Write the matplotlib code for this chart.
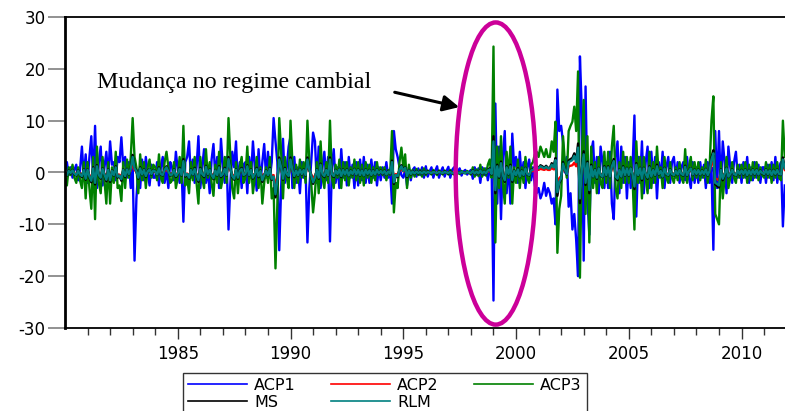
import numpy as np
import matplotlib.pyplot as plt
from matplotlib.patches import Ellipse

plt.rcParams['axes.unicode_minus'] = False

# monthly series, Jan 1980 - Dec 2011, one row per year
acp1 = [
    0.5, 2.0, -0.5, 1.0, -1.0, 0.5, 1.5, -1.5, 0.5, 5.0, -1.0, 3.5,
    -2.0, 3.0, 7.0, -1.5, 9.0, -3.0, 2.0, 5.0, -2.5, 1.0, 4.0, -1.0,
    6.0, 1.5, 2.0, -1.5, 3.0, 2.0, 6.8, 1.0, 3.0, -1.0, 2.0, -3.0,
    1.0, -17.0, -5.0, 0.5, -3.0, 2.5, -1.5, 3.0, 0.0, -2.5, 1.5, -1.0,
    -1.0, 2.0, -2.5, 1.0, 3.0, -2.0, 0.5, -3.0, 2.0, 1.0, -1.5, 4.0,
    0.5, -2.0, 1.0, -9.5, 2.0, 3.0, 6.0, -1.0, 2.5, -2.0, 1.0, 7.0,
    -3.0, 1.0, 4.5, -2.0, 0.5, -4.0, 2.5, 5.5, -1.0, 3.0, -3.0, 6.5,
    1.0, -2.0, 3.0, -11.0, -2.0, 4.0, 1.0, 6.0, -2.5, 2.0, -3.0, 1.5,
    2.0, -4.0, 3.0, -1.0, 6.0, 1.0, -3.5, 4.5, -2.0, 2.0, 5.5, -1.0,
    4.0, -1.0, 2.0, 10.5, 6.0, 2.0, -15.0, -3.0, 6.5, -2.0, 1.0, 5.0,
    7.0, -3.0, 3.0, -2.0, 1.0, -4.0, 2.0, -1.0, 1.0, -13.5, -3.0, 2.0,
    7.7, 6.0, -2.0, 5.0, -3.0, 1.0, 4.0, -1.5, 3.0, -13.3, 1.0, 4.5,
    -2.0, 1.0, -3.0, 4.5, -1.0, 2.0, -2.5, 3.0, -1.0, 1.5, -3.0, 2.0,
    -2.5, 2.5, -1.5, 3.0, -2.0, 1.5, -2.0, 2.5, -1.0, 2.0, -2.5, 1.0,
    -1.5, 1.0, -1.0, 2.0, -1.0, 0.5, -6.0, 8.0, 4.5, 3.0, 1.0, -0.5,
    -1.0, 0.5, -2.5, 1.0, -1.5, 0.5, 1.0, -0.8, 0.8, -0.5, 1.0, -1.0,
    1.2, -0.8, 0.2, 1.0, -1.0, 0.3, 1.2, -1.0, 0.2, 1.0, -0.8, 0.3,
    1.1, -1.0, 0.5, 1.0, -0.9, 0.2, 0.8, -0.6, 0.2, 0.5, -0.4, 0.1,
    0.5, -1.2, 1.0, -0.5, 0.8, -2.0, 1.0, -0.5, 0.8, -1.5, 0.5, 1.0,
    -24.7, 13.3, -6.0, 5.0, -9.0, 3.0, 8.0, -4.0, 2.0, -6.0, 7.5, 1.0,
    3.0, -2.0, 4.0, -1.0, 2.0, -3.0, 1.0, 2.5, -1.5, 1.0, -2.5, -4.0,
    -3.0, -5.0, -4.0, -2.0, -4.5, -3.0, -4.0, -6.0, -5.0, -10.0, 16.0, 8.0,
    9.0, 5.8, 0.0, 3.0, -6.6, -4.0, -11.0, -8.0, -13.0, -20.0, 22.4, 11.8,
    -17.0, 16.6, -5.0, -12.0, 4.0, 6.0, -2.0, 3.0, -4.0, 5.0, 2.0, -3.0,
    2.0, -3.0, 4.0, -6.0, -9.0, 3.0, 6.0, -4.0, 5.0, -2.0, 3.0, -5.0,
    2.0, -3.0, 1.0, 11.0, -8.5, 3.0, -2.0, 6.0, -4.0, 2.0, 5.0, -3.0,
    4.0, -2.0, 3.0, -5.0, 2.0, -1.0, 4.0, -3.0, 1.0, 3.0, -2.0, 2.0,
    3.0, -1.0, 2.0, -2.0, 1.0, 2.0, -1.5, 3.0, -1.0, -3.0, 2.0, -2.0,
    1.0, -2.0, 2.0, -1.0, 1.5, -3.0, 2.0, -2.0, 1.0, -14.9, 8.0, -3.0,
    8.0, -3.0, 6.0, 2.0, -4.0, 5.0, 1.0, -2.0, 2.0, 4.0, -1.0, 1.5,
    -2.0, 2.0, -1.0, 3.0, -2.0, 1.0, -1.5, 2.0, -1.0, 1.5, -2.0, 1.0,
    1.0, -2.0, 1.5, -1.0, 2.0, -1.5, 3.0, -2.0, 1.0, 2.0, -10.4, -2.5,
]

acp2 = [
    -0.1, -0.3, 0.2, -0.1, 0.2, -0.1, -0.3, 0.2, -0.2, -0.4, 0.3, -0.7,
    0.3, -0.5, -1.0, 0.5, -1.2, 0.7, -0.3, -0.6, 0.4, -0.2, -0.8, 0.3,
    -0.9, 0.2, -0.3, 0.6, -0.5, -0.4, -0.8, 0.3, -0.4, 0.4, -0.2, 0.4,
    1.8, 0.5, 0.1, -0.6, 0.5, -0.2, 0.3, -0.4, 0.1, 0.4, -0.2, 0.2,
    0.1, -0.2, 0.5, -0.2, -0.3, 0.3, 0.6, 0.1, -0.3, -0.2, 0.3, -0.4,
    -0.1, 0.4, -0.3, 1.3, -0.4, -0.2, -0.6, 0.3, -0.2, 0.4, -0.3, -0.9,
    0.4, -0.2, -0.4, 0.7, -0.2, 0.3, -0.3, -0.7, 0.2, -0.3, 0.6, -0.4,
    -0.2, 0.4, -0.3, 1.6, 0.4, -0.4, -0.7, 0.3, -0.6, 0.2, 0.4, -0.3,
    -0.2, 0.7, -0.3, 0.3, -0.6, -0.2, 0.4, -0.4, 0.2, -0.9, -0.3, 0.2,
    -0.3, 0.4, -0.7, -0.5, -2.5, -0.9, 1.5, 0.6, -0.7, 0.4, -0.2, -0.4,
    1.5, 0.3, -0.4, 0.2, -0.3, 0.4, -0.2, 0.3, -0.3, 1.5, 0.3, -0.3,
    -1.1, -0.6, 0.3, -0.6, 0.9, -0.2, -0.4, 0.3, -0.3, 1.5, -0.2, -0.4,
    0.2, -0.2, 0.4, -0.4, 0.3, -0.2, 0.3, -0.4, 0.2, -0.2, 0.4, -0.2,
    0.3, -0.3, 0.2, -0.4, 0.3, -0.2, 0.2, -0.3, 0.2, -0.2, 0.3, -0.1,
    0.2, -0.1, 0.2, -0.2, 0.1, -0.1, 1.2, -1.1, -0.3, -0.4, 0.3, 0.7,
    0.2, 0.5, -0.4, 0.2, -0.2, 0.1, -0.1, 0.1, -0.1, 0.1, -0.1, 0.1,
    -0.1, 0.1, 0.0, -0.1, 0.1, 0.0, -0.1, 0.1, 0.0, -0.1, 0.1, 0.0,
    -0.1, 0.1, 0.0, -0.1, 0.1, 0.0, 0.0, 0.0, 0.0, 0.0, 0.0, 0.0,
    -0.1, 0.2, -0.1, 0.1, -0.1, 0.2, -0.1, 0.1, -0.1, 0.2, 0.4, -0.2,
    3.6, -2.0, 0.7, -0.5, 1.1, -0.3, -0.9, 0.6, -0.2, 0.7, -0.9, 0.2,
    -0.3, 0.4, -0.5, 0.2, -0.3, 0.5, -0.2, -0.3, 0.2, 0.3, 0.5, 0.6,
    0.5, 0.7, 0.6, 0.5, 0.7, 0.5, 0.5, 0.9, 0.6, 1.4, -2.3, -1.1,
    -0.7, 1.0, 0.3, -0.2, 1.2, 1.3, 1.4, 1.9, 1.2, 2.9, -3.0, 0.4,
    2.1, -1.2, 1.1, -2.0, 0.7, -0.5, 0.3, -0.6, 0.5, -0.3, -0.5, 0.6,
    -0.3, 0.6, -0.5, 0.7, 1.3, -0.5, -0.7, 0.3, -0.5, 0.6, -0.3, 0.5,
    -0.3, 0.5, -0.2, -1.6, 0.9, -0.3, 0.5, -0.7, 0.5, -0.2, -0.6, 0.6,
    -0.5, 0.3, -0.3, 0.7, -0.2, 0.2, -0.5, 0.5, -0.2, -0.3, 0.3, -0.2,
    -0.3, 0.2, -0.2, 0.3, -0.2, -0.3, 0.7, -0.3, 0.2, 0.5, -0.2, 0.3,
    -0.2, 0.3, -0.2, 0.2, -0.2, 0.4, -0.3, 0.2, 1.5, 2.2, -1.2, -1.3,
    -1.5, 0.3, -0.7, -0.2, 0.5, -0.5, -0.2, 0.3, -0.2, -0.3, 0.2, -0.2,
    0.2, -0.2, 0.3, -0.3, 0.2, -0.2, 0.3, -0.2, 0.3, -0.2, 0.2, -0.1,
    -0.2, 0.3, -0.2, 0.2, -0.3, 0.2, -0.2, 0.3, -0.2, -0.2, 1.5, 0.5,
]

acp3 = [
    -1.0, -2.5, 1.0, -0.5, 1.5, -1.0, -2.0, 1.0, -1.5, -3.0, 2.0, -5.0,
    2.0, -3.0, -7.0, 3.0, -9.0, 5.0, -2.0, -4.0, 3.0, -1.5, -6.0, 2.0,
    -6.0, 1.0, -2.0, 4.0, -3.0, -2.5, -5.5, 2.0, -3.0, 2.5, -1.0, 3.0,
    10.5, 3.0, 1.0, -4.0, 3.5, -1.5, 2.0, -3.0, 1.0, 2.5, -1.0, 1.5,
    1.0, -1.5, 3.5, -1.0, -2.0, 2.0, 4.0, 1.0, -2.0, -1.5, 2.0, -3.0,
    -1.0, 3.0, -2.0, 9.0, -2.5, -1.0, -4.0, 2.0, -1.5, 3.0, -2.0, -6.0,
    3.0, -1.0, -3.0, 4.5, -1.0, 2.0, -2.0, -4.5, 1.5, -2.0, 4.0, -3.0,
    -1.0, 3.0, -2.0, 10.5, 3.0, -3.0, -5.0, 2.0, -4.0, 1.0, 3.0, -2.0,
    -1.0, 5.0, -2.0, 2.0, -4.0, -1.0, 3.0, -3.0, 1.0, -6.0, -2.0, 1.0,
    -2.0, 3.0, -5.0, -3.0, -18.5, -6.0, 10.5, 4.0, -5.0, 3.0, -1.0, -3.0,
    10.0, 2.0, -3.0, 1.5, -2.0, 2.5, -1.0, 2.0, -2.0, 10.0, 2.0, -2.0,
    -7.7, -4.0, 2.0, -4.0, 6.0, -1.0, -3.0, 2.0, -2.0, 10.0, -1.0, -3.0,
    1.5, -1.0, 2.5, -3.0, 2.0, -1.5, 2.0, -2.5, 1.0, -1.0, 2.5, -1.5,
    2.0, -2.0, 1.5, -2.5, 2.0, -1.0, 1.5, -2.0, 1.0, -1.5, 2.0, -0.5,
    1.0, -0.5, 1.0, -1.5, 0.5, -0.5, 8.0, -7.7, -2.0, -3.0, 2.0, 4.8,
    1.0, 3.5, -3.0, 1.5, -1.0, 0.5, -0.8, 0.7, -0.5, 0.5, -0.8, 0.8,
    -0.5, 0.4, 0.0, -0.4, 0.5, 0.0, -0.5, 0.4, 0.0, -0.4, 0.4, 0.0,
    -0.4, 0.5, -0.2, -0.4, 0.5, 0.0, -0.3, 0.3, 0.0, -0.2, 0.3, 0.0,
    -0.4, 1.0, -0.8, 0.6, -0.7, 1.5, -0.8, 0.8, -0.6, 1.5, 2.5, -1.0,
    24.3, -13.5, 5.0, -3.0, 7.0, -2.0, -6.0, 4.0, -1.0, 5.0, -6.0, 1.0,
    -2.0, 2.5, -3.0, 1.0, -2.0, 3.0, -1.0, -2.0, 1.5, 2.0, 3.5, 4.0,
    3.0, 5.0, 4.0, 3.0, 4.5, 3.0, 3.0, 6.0, 4.0, 9.8, -15.5, -7.0,
    -4.5, 7.0, 2.0, -1.0, 8.0, 9.0, 9.8, 12.7, 8.0, 19.5, -20.3, 2.5,
    14.0, -8.0, 7.0, -13.5, 5.0, -3.0, 2.0, -4.0, 3.0, -2.0, -3.0, 4.0,
    -2.0, 4.0, -3.0, 5.0, 9.0, -3.0, -5.0, 2.0, -3.0, 4.0, -2.0, 3.0,
    -2.0, 3.0, -1.0, -11.0, 6.0, -2.0, 3.0, -5.0, 3.0, -1.0, -4.0, 4.0,
    -3.0, 2.0, -2.0, 5.0, -1.0, 1.0, -3.0, 3.0, -1.0, -2.0, 2.0, -1.0,
    -2.0, 1.0, -1.5, 2.0, -1.0, -2.0, 4.5, -2.0, 1.0, 3.0, -1.5, 2.0,
    -1.0, 2.0, -1.5, 1.0, -1.0, 2.5, -2.0, 1.0, 10.0, 14.7, -8.0, -9.0,
    -10.0, 2.0, -5.0, -1.0, 3.0, -3.0, -1.0, 2.0, -1.0, -2.0, 1.5, -1.0,
    1.5, -1.0, 2.0, -2.0, 1.5, -1.5, 2.0, -1.0, 2.0, -1.5, 1.0, -0.5,
    -1.0, 2.0, -1.0, 1.5, -2.0, 1.5, -1.0, 2.0, -1.0, -1.5, 10.0, 3.0,
]

ms = [
    -0.3, -0.6, 0.4, -0.2, 0.5, -0.3, -0.6, 0.4, -0.5, -0.9, 0.6, -1.4,
    0.6, -1.0, -1.9, 1.0, -2.3, 1.4, -0.6, -1.2, 0.8, -0.5, -1.7, 0.6,
    -1.8, 0.4, -0.6, 1.2, -1.0, -0.7, -1.6, 0.6, -0.9, 0.7, -0.4, 0.9,
    3.4, 1.0, 0.3, -1.2, 1.0, -0.5, 0.6, -0.9, 0.3, 0.7, -0.4, 0.5,
    0.3, -0.5, 1.0, -0.4, -0.6, 0.6, 1.2, 0.3, -0.6, -0.5, 0.6, -0.9,
    -0.3, 0.9, -0.6, 2.6, -0.8, -0.4, -1.2, 0.6, -0.5, 0.9, -0.6, -1.8,
    0.9, -0.4, -0.9, 1.3, -0.4, 0.6, -0.6, -1.3, 0.5, -0.6, 1.2, -0.9,
    -0.4, 0.9, -0.6, 3.0, 0.9, -0.9, -1.4, 0.6, -1.2, 0.4, 0.9, -0.6,
    -0.4, 1.4, -0.6, 0.6, -1.2, -0.4, 0.9, -0.9, 0.4, -1.8, -0.6, 0.4,
    -0.6, 0.9, -1.4, -1.0, -4.8, -1.8, 2.9, 1.2, -1.4, 0.9, -0.4, -0.9,
    2.9, 0.6, -0.9, 0.5, -0.6, 0.7, -0.4, 0.6, -0.6, 2.9, 0.6, -0.6,
    -2.2, -1.2, 0.6, -1.2, 1.7, -0.4, -0.9, 0.6, -0.6, 2.9, -0.4, -0.9,
    0.5, -0.4, 0.7, -0.9, 0.6, -0.5, 0.6, -0.7, 0.4, -0.4, 0.7, -0.5,
    0.6, -0.6, 0.5, -0.7, 0.6, -0.4, 0.5, -0.6, 0.4, -0.5, 0.6, -0.3,
    0.4, -0.3, 0.4, -0.5, 0.3, -0.3, 2.3, -2.2, -0.6, -0.9, 0.6, 1.4,
    0.4, 1.0, -0.9, 0.5, -0.4, 0.3, -0.3, 0.3, -0.2, 0.2, -0.3, 0.3,
    -0.2, 0.2, 0.0, -0.2, 0.2, 0.0, -0.2, 0.2, 0.0, -0.2, 0.2, 0.0,
    -0.2, 0.2, -0.1, -0.2, 0.2, 0.0, -0.1, 0.1, 0.0, -0.1, 0.1, 0.0,
    -0.2, 0.4, -0.3, 0.3, -0.3, 0.5, -0.3, 0.3, -0.3, 0.5, 0.8, -0.4,
    7.0, -4.0, 1.5, -1.0, 2.1, -0.6, -1.8, 1.2, -0.4, 1.5, -1.8, 0.4,
    -0.6, 0.8, -0.9, 0.4, -0.6, 0.9, -0.4, -0.6, 0.5, 0.6, 1.0, 1.2,
    0.9, 1.4, 1.2, 0.9, 1.3, 0.9, 0.9, 1.8, 1.2, 2.8, -4.5, -2.1,
    -1.3, 2.0, 0.6, -0.4, 2.3, 2.6, 2.8, 3.7, 2.3, 5.6, -5.9, 0.7,
    4.1, -2.4, 2.1, -4.0, 1.5, -0.9, 0.6, -1.2, 0.9, -0.6, -0.9, 1.2,
    -0.6, 1.2, -0.9, 1.5, 2.6, -0.9, -1.5, 0.6, -0.9, 1.2, -0.6, 0.9,
    -0.6, 0.9, -0.4, -3.2, 1.8, -0.6, 0.9, -1.5, 0.9, -0.4, -1.2, 1.2,
    -0.9, 0.6, -0.6, 1.5, -0.4, 0.4, -0.9, 0.9, -0.4, -0.6, 0.6, -0.4,
    -0.6, 0.4, -0.5, 0.6, -0.4, -0.6, 1.3, -0.6, 0.4, 0.9, -0.5, 0.6,
    -0.4, 0.6, -0.5, 0.4, -0.4, 0.7, -0.6, 0.4, 2.9, 4.3, -2.3, -2.6,
    -2.9, 0.6, -1.5, -0.4, 0.9, -0.9, -0.4, 0.6, -0.4, -0.6, 0.5, -0.4,
    0.5, -0.4, 0.6, -0.6, 0.5, -0.5, 0.6, -0.4, 0.6, -0.5, 0.4, -0.2,
    -0.4, 0.6, -0.4, 0.5, -0.6, 0.5, -0.4, 0.6, -0.4, -0.5, 2.9, 0.9,
]

rlm = [
    -0.2, -0.5, 0.3, -0.1, 0.4, -0.2, -0.5, 0.3, -0.4, -0.7, 0.5, -1.2,
    0.5, -0.8, -1.6, 0.8, -2.0, 1.2, -0.5, -1.0, 0.7, -0.4, -1.4, 0.5,
    -1.5, 0.3, -0.5, 1.0, -0.8, -0.6, -1.3, 0.5, -0.7, 0.6, -0.3, 0.7,
    3.0, 0.8, 0.2, -1.0, 0.8, -0.4, 0.5, -0.7, 0.2, 0.6, -0.3, 0.4,
    0.2, -0.4, 0.8, -0.3, -0.5, 0.5, 1.0, 0.2, -0.5, -0.4, 0.5, -0.7,
    -0.2, 0.7, -0.5, 2.2, -0.6, -0.3, -1.0, 0.5, -0.4, 0.7, -0.5, -1.5,
    0.7, -0.3, -0.7, 1.1, -0.3, 0.5, -0.5, -1.1, 0.4, -0.5, 1.0, -0.7,
    -0.3, 0.7, -0.5, 2.6, 0.7, -0.7, -1.2, 0.5, -1.0, 0.3, 0.7, -0.5,
    -0.3, 1.2, -0.5, 0.5, -1.0, -0.3, 0.7, -0.7, 0.3, -1.5, -0.5, 0.3,
    -0.5, 0.7, -1.2, -0.8, -4.2, -1.5, 2.5, 1.0, -1.2, 0.7, -0.3, -0.7,
    2.5, 0.5, -0.7, 0.4, -0.5, 0.6, -0.3, 0.5, -0.5, 2.5, 0.5, -0.5,
    -1.9, -1.0, 0.5, -1.0, 1.5, -0.3, -0.7, 0.5, -0.5, 2.5, -0.3, -0.7,
    0.4, -0.3, 0.6, -0.7, 0.5, -0.4, 0.5, -0.6, 0.3, -0.3, 0.6, -0.4,
    0.5, -0.5, 0.4, -0.6, 0.5, -0.3, 0.4, -0.5, 0.3, -0.4, 0.5, -0.2,
    0.3, -0.2, 0.3, -0.4, 0.2, -0.2, 2.0, -1.9, -0.5, -0.7, 0.5, 1.2,
    0.3, 0.9, -0.7, 0.4, -0.3, 0.2, -0.2, 0.2, -0.1, 0.1, -0.2, 0.2,
    -0.1, 0.1, 0.0, -0.1, 0.1, 0.0, -0.1, 0.1, 0.0, -0.1, 0.1, 0.0,
    -0.1, 0.1, -0.1, -0.1, 0.1, 0.0, -0.1, 0.1, 0.0, -0.1, 0.1, 0.0,
    -0.1, 0.3, -0.2, 0.2, -0.2, 0.4, -0.2, 0.2, -0.2, 0.4, 0.6, -0.3,
    6.0, -3.4, 1.2, -0.8, 1.8, -0.5, -1.5, 1.0, -0.3, 1.2, -1.5, 0.3,
    -0.5, 0.6, -0.8, 0.3, -0.5, 0.8, -0.3, -0.5, 0.4, 0.5, 0.9, 1.0,
    0.8, 1.2, 1.0, 0.8, 1.1, 0.8, 0.8, 1.5, 1.0, 2.4, -3.8, -1.8,
    -1.1, 1.7, 0.5, -0.3, 2.0, 2.2, 2.4, 3.2, 2.0, 4.8, -5.0, 0.6,
    3.5, -2.0, 1.8, -3.4, 1.2, -0.8, 0.5, -1.0, 0.8, -0.5, -0.8, 1.0,
    -0.5, 1.0, -0.8, 1.2, 2.2, -0.8, -1.2, 0.5, -0.8, 1.0, -0.5, 0.8,
    -0.5, 0.8, -0.3, -2.7, 1.5, -0.5, 0.8, -1.2, 0.8, -0.3, -1.0, 1.0,
    -0.8, 0.5, -0.5, 1.2, -0.3, 0.3, -0.8, 0.8, -0.3, -0.5, 0.5, -0.3,
    -0.5, 0.3, -0.4, 0.5, -0.3, -0.5, 1.1, -0.5, 0.3, 0.8, -0.4, 0.5,
    -0.3, 0.5, -0.4, 0.3, -0.3, 0.6, -0.5, 0.3, 2.5, 3.7, -2.0, -2.2,
    -2.5, 0.5, -1.2, -0.3, 0.8, -0.8, -0.3, 0.5, -0.3, -0.5, 0.4, -0.3,
    0.4, -0.3, 0.5, -0.5, 0.4, -0.4, 0.5, -0.3, 0.5, -0.4, 0.3, -0.1,
    -0.3, 0.5, -0.3, 0.4, -0.5, 0.4, -0.3, 0.5, -0.3, -0.4, 2.5, 0.8,
]

labels = ['ACP1', 'ACP2', 'ACP3', 'MS', 'RLM']
colors = ['#0000ff', '#ff0000', '#008000', '#000000', '#008080']
series = [acp1, acp2, acp3, ms, rlm]

x = 1980 + np.arange(len(acp1)) / 12.0

fig = plt.figure(figsize=(7.85, 4.11), dpi=100)
ax = fig.add_axes([65 / 785, 1 - 328 / 411, 720 / 785, 311 / 411])

lines = []
for vals, lab, col in zip(series, labels, colors):
    ln, = ax.plot(x, vals, color=col, lw=1.7, label=lab)
    lines.append(ln)

ax.set_xlim(1980, x[-1] + 0.01)
ax.set_ylim(-30, 30)
ax.set_yticks([-30, -20, -10, 0, 10, 20, 30])
ax.set_xticks([1985, 1990, 1995, 2000, 2005, 2010])
ax.set_xticks([y for y in range(1981, 2012) if y % 5 != 0], minor=True)

ax.tick_params(axis='y', direction='out', length=12, width=1.2, color='#7f7f7f',
               labelsize=12, pad=2)
ax.tick_params(axis='x', which='major', direction='out', length=8, width=1.0,
               color='#333333', labelsize=12, pad=4)
ax.tick_params(axis='x', which='minor', direction='out', length=5, width=1.0,
               color='#333333')
for lab in ax.get_xticklabels() + ax.get_yticklabels():
    lab.set_family('DejaVu Sans')

ax.spines['right'].set_visible(False)
ax.spines['left'].set_linewidth(2.0)
ax.spines['top'].set_linewidth(1.3)
ax.spines['bottom'].set_linewidth(1.3)

# annotation: ellipse around the 1999 devaluation and arrow
ell = Ellipse((1999.1, -0.2), 3.55, 58.3, fill=False, edgecolor='#cc0099', lw=3.2, zorder=6)
ax.add_patch(ell)
ax.annotate('', xy=(1997.6, 12.5), xytext=(1994.5, 15.6),
            arrowprops=dict(arrowstyle='-|>', color='black', lw=2.2, mutation_scale=24),
            zorder=7)
ax.text(1981.42, 17.4, 'Mudança no regime cambial', family='Liberation Serif',
        fontsize=17.3, va='center', ha='left')

order = [0, 3, 1, 4, 2]
leg = fig.legend([lines[i] for i in order], [labels[i] for i in order], ncol=3,
                 loc='upper left', bbox_to_anchor=(183 / 785, 1 - 373 / 411),
                 bbox_transform=fig.transFigure, fancybox=False, framealpha=1,
                 edgecolor='#333333', prop={'family': 'DejaVu Sans', 'size': 11.5},
                 handlelength=3.7, handletextpad=0.45, columnspacing=2.2,
                 labelspacing=0.12, borderpad=0.3, borderaxespad=0)
leg.get_frame().set_linewidth(1.0)
for ln in leg.get_lines():
    ln.set_linewidth(1.2)

fig.savefig('out.png', dpi=100)
